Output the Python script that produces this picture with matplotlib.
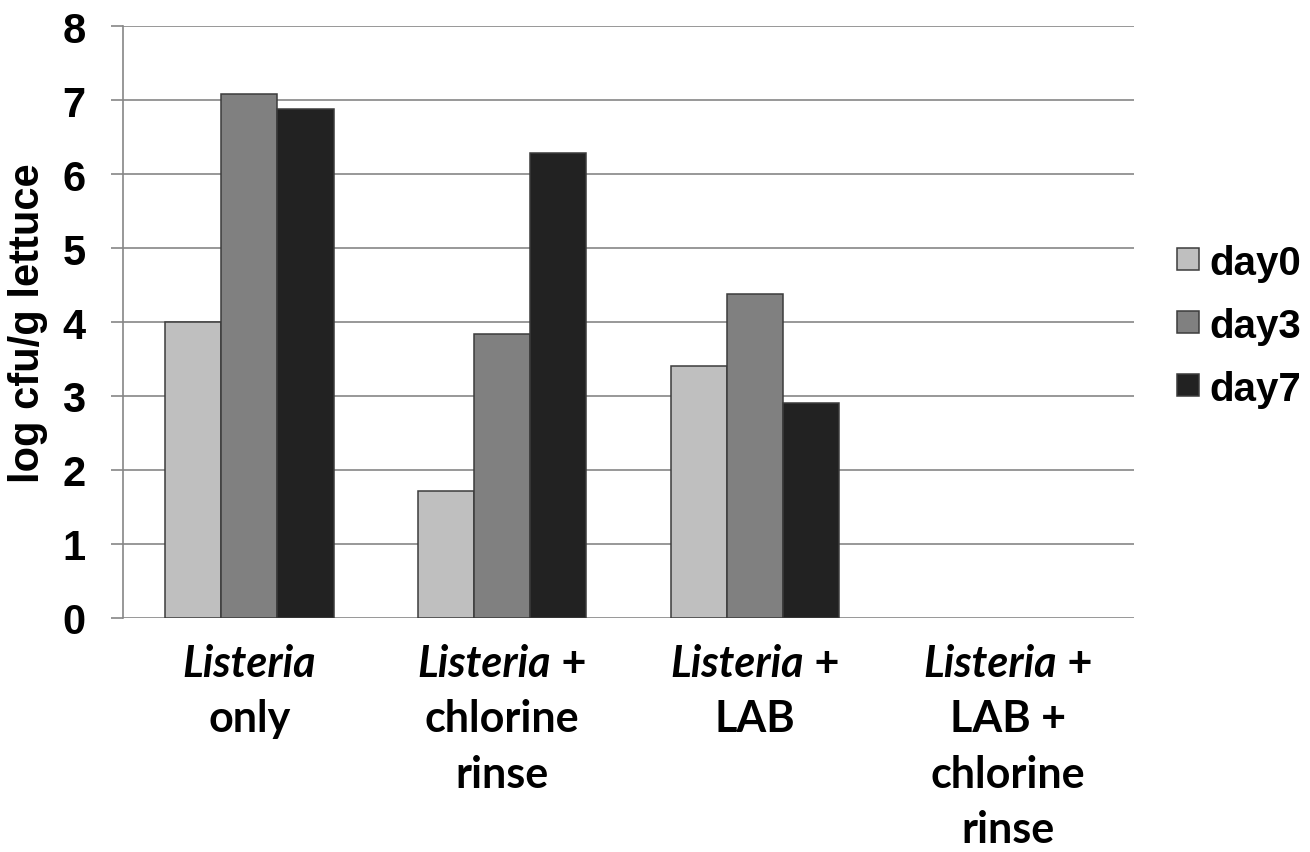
import matplotlib
matplotlib.use("Agg")
import matplotlib.pyplot as plt
import matplotlib.transforms as mtransforms
from matplotlib.patches import Rectangle
import numpy as np

# Category labels, one list of lines per treatment
category_lines = [
    ["Listeria", "only"],
    ["Listeria +", "chlorine", "rinse"],
    ["Listeria +", "LAB"],
    ["Listeria +", "LAB +", "chlorine", "rinse"],
]
organism = "Listeria"

series_names = ["day0", "day3", "day7"]
day0 = [4.00, 1.71, 3.41, 0.0]
day3 = [7.08, 3.84, 4.38, 0.0]
day7 = [6.88, 6.29, 2.91, 0.0]
series_values = [day0, day3, day7]
series_colors = ["#BFBFBF", "#808080", "#222222"]

y_ticks = [0, 1, 2, 3, 4, 5, 6, 7, 8]
y_label = "log cfu/g lettuce"

W, H, DPI = 1310, 853, 100
fig = plt.figure(figsize=(W / DPI, H / DPI), dpi=DPI)
ax_left, ax_right, ax_top, ax_bottom = 123, 1134, 27, 619
ax = fig.add_axes([ax_left / W, (H - ax_bottom) / H,
                   (ax_right - ax_left) / W, (ax_bottom - ax_top) / H])

n_cat = len(category_lines)
n_ser = len(series_values)
bar_w = 1.0 / (n_ser + 1.5)
centers = np.arange(n_cat) + 0.5
for k, (vals, col) in enumerate(zip(series_values, series_colors)):
    offs = (k - (n_ser - 1) / 2) * bar_w
    edges = ["#3C3C3C" if v > 0 else "none" for v in vals]
    ax.bar(centers + offs, vals, width=bar_w, color=col,
           edgecolor=edges, linewidth=1.1, zorder=3)

ax.set_xlim(0, n_cat)
ax.set_ylim(y_ticks[0], y_ticks[-1])
ax.set_yticks(y_ticks)
ax.set_yticklabels([str(t) for t in y_ticks], fontsize=30,
                   fontweight="bold", family="Liberation Sans")
ax.set_xticks([])
grid_col = "#868686"
ax.yaxis.grid(True, color=grid_col, linewidth=1.2, zorder=0)
ax.set_axisbelow(True)
for s in ["top", "right", "bottom"]:
    ax.spines[s].set_visible(False)
ax.spines["left"].set_color(grid_col)
ax.spines["left"].set_linewidth(1.2)
ax.tick_params(axis="y", length=9, width=1.2, color=grid_col, pad=18)

ax.set_ylabel(y_label, fontsize=30, fontweight="bold",
              family="Liberation Sans", labelpad=10)

# Multi-line category labels below the axis
cat_font = "Lato"
cat_size = 31
baseline0 = 677
line_step = 55.5
renderer = fig.canvas.get_renderer()
base_tr = mtransforms.blended_transform_factory(ax.transData, fig.dpi_scale_trans)
for c, lines in zip(centers, category_lines):
    for j, line in enumerate(lines):
        y_in = (H - (baseline0 + j * line_step)) / DPI
        if j == 0 and line.startswith(organism):
            rest = line[len(organism):]
            t1 = fig.text(0, 0, organism, fontsize=cat_size, family=cat_font,
                          fontweight="bold", style="italic")
            w1 = t1.get_window_extent(renderer).width
            w2 = 0
            t2 = None
            if rest:
                t2 = fig.text(0, 0, rest, fontsize=cat_size, family=cat_font,
                              fontweight="bold")
                w2 = t2.get_window_extent(renderer).width
            total = w1 + w2
            t1.set_transform(mtransforms.offset_copy(base_tr, fig, x=-total / 2,
                                                     y=0, units="dots"))
            t1.set_position((c, y_in))
            t1.set_ha("left")
            t1.set_va("baseline")
            if t2 is not None:
                t2.set_transform(mtransforms.offset_copy(base_tr, fig,
                                                         x=-total / 2 + w1,
                                                         y=0, units="dots"))
                t2.set_position((c, y_in))
                t2.set_ha("left")
                t2.set_va("baseline")
        else:
            fig.text(c, y_in, line, transform=base_tr, fontsize=cat_size,
                     family=cat_font, fontweight="bold", ha="center",
                     va="baseline")

# Legend on the right
leg_x0 = 1177
leg_sq = 22
leg_rows = [260, 323, 386]
for name, col, yc in zip(series_names, series_colors, leg_rows):
    fig.patches.append(Rectangle(((leg_x0) / W, (H - yc - leg_sq / 2) / H),
                                 leg_sq / W, leg_sq / H, transform=fig.transFigure,
                                 facecolor=col, edgecolor="#3C3C3C",
                                 linewidth=1.1))
    fig.text((leg_x0 + leg_sq + 10) / W, (H - yc) / H, name, fontsize=29,
             fontweight="bold", family="Liberation Sans", ha="left",
             va="center_baseline")

fig.savefig("out.png", dpi=DPI, facecolor="white")
